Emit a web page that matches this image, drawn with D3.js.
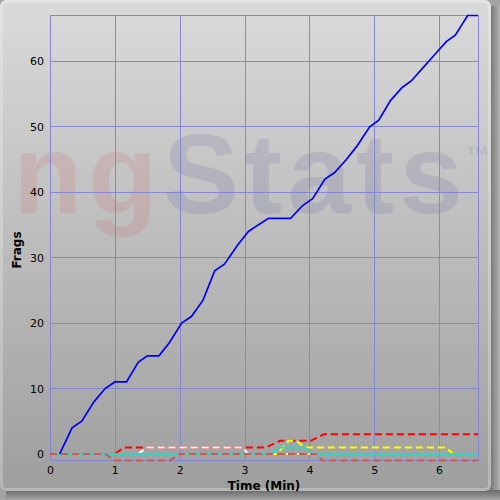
<!DOCTYPE html>
<html><head><meta charset="utf-8">
<script src="https://cdn.jsdelivr.net/npm/d3@7"></script>
<style>html,body{margin:0;padding:0;background:#888;}svg{display:block;}</style>
</head><body>
<svg id="c" width="500" height="500"></svg>
<script>
// ---- data ----
const xTicks = [0,1,2,3,4,5,6];
const yTicks = [0,10,20,30,40,50,60];
const xLabel = "Time (Min)";
const yLabel = "Frags";

const blueT = [0.15,0.34,0.49,0.68,0.85,1.0,1.18,1.36,1.5,1.68,1.84,2.03,2.18,2.36,2.54,2.69,2.9,3.06,3.21,3.37,3.71,3.9,4.05,4.24,4.39,4.57,4.73,4.93,5.07,5.25,5.43,5.57,5.75,5.93,6.11,6.25,6.44,6.6];
const blueV = [0,4,5,8,10,11,11,14,15,15,17,20,21,23.5,28,29,32,34,35,36,36,38,39,42,43,45,47,50,51,54,56,57,59,61,63,64,67,67];

const orangeT = [0,6.6];
const orangeV = [0,0];

const redT = [0,1.0,1.14,3.33,3.55,4.02,4.22,6.6];
const redV = [0,0,1,1,2,2,3,3];

const whiteT = [0,1.36,1.49,2.98,3.05,6.6];
const whiteV = [0,0,1,1,0,0];

const yellowT = [0,3.5,3.68,3.8,3.93,6.1,6.22,6.6];
const yellowV = [0,0,2,2,1,1,0,0];

const cyanT = [0,3.42,3.54,3.93,4.06,6.6];
const cyanV = [0,0,1,1,0,0];

const brownT = [0,0.85,1.0,1.85,2.0,4.1,4.2,6.6];
const brownV = [0,0,-1,-1,0,0,-1,-1];

// ---- drawing ----
const svg = d3.select("#c");
const defs = svg.append("defs");
const bg = defs.append("linearGradient").attr("id","bg").attr("x1",0).attr("y1",0).attr("x2",0).attr("y2",1);
bg.append("stop").attr("offset","0%").attr("stop-color","#dadada");
bg.append("stop").attr("offset","100%").attr("stop-color","#9e9e9e");
const sh = defs.append("linearGradient").attr("id","shR").attr("x1",0).attr("y1",0).attr("x2",1).attr("y2",0);
sh.append("stop").attr("offset","0%").attr("stop-color","#747474");
sh.append("stop").attr("offset","100%").attr("stop-color","#b4b4b4");
const shb = defs.append("linearGradient").attr("id","shB").attr("x1",0).attr("y1",0).attr("x2",0).attr("y2",1);
shb.append("stop").attr("offset","0%").attr("stop-color","#6a6a6a");
shb.append("stop").attr("offset","100%").attr("stop-color","#a4a4a4");

// outer shadow area
svg.append("rect").attr("x",0).attr("y",0).attr("width",500).attr("height",500).attr("fill","#a4a4a4");
svg.append("rect").attr("x",490).attr("y",6).attr("width",10).attr("height",494).attr("fill","url(#shR)");
svg.append("rect").attr("x",6).attr("y",490).attr("width",494).attr("height",10).attr("fill","url(#shB)");
// panel
svg.append("rect").attr("x",0).attr("y",0).attr("width",491).attr("height",491).attr("rx",6).attr("fill","url(#bg)");
// bevel
svg.append("rect").attr("x",1.5).attr("y",1.5).attr("width",488).attr("height",488).attr("rx",5)
  .attr("fill","none").attr("stroke","#ffffff").attr("stroke-opacity",0.25).attr("stroke-width",3);

// watermark
const wm = svg.append("text").attr("x",13).attr("y",213)
  .attr("font-family","Liberation Sans, Arial, sans-serif").attr("font-weight","bold")
  .attr("font-size",114).attr("textLength",450).attr("lengthAdjust","spacing");
wm.append("tspan").text("ng").attr("fill","#d03030").attr("fill-opacity",0.12);
wm.append("tspan").text("Stats").attr("fill","#404090").attr("fill-opacity",0.13);
svg.append("text").attr("x",466).attr("y",163).text("™")
  .attr("font-family","Liberation Sans, Arial, sans-serif").attr("font-weight","bold").attr("font-size",24)
  .attr("fill","#404090").attr("fill-opacity",0.13);

const x = d3.scaleLinear().domain([0,6.6]).range([50,478]);
const y = d3.scaleLinear().domain([-1,67]).range([460.5,15.5]);

// grid
const grid = svg.append("g").attr("stroke","#8686d2").attr("stroke-width",1).attr("shape-rendering","crispEdges");
xTicks.concat([6.6]).forEach(t=>{
  grid.append("line").attr("x1",Math.round(x(t))+0.5).attr("x2",Math.round(x(t))+0.5).attr("y1",15).attr("y2",460);
});
yTicks.concat([67,-1]).forEach(v=>{
  grid.append("line").attr("y1",Math.floor(y(v))+0.5).attr("y2",Math.floor(y(v))+0.5).attr("x1",x(0)).attr("x2",x(6.6)+1);
});

// axes labels via d3 axes (no lines)
const xAxis = svg.append("g").attr("transform",`translate(0,${y(-1)})`)
  .call(d3.axisBottom(x).tickValues(xTicks).tickFormat(d3.format("d")).tickSize(0).tickPadding(6));
const yAxis = svg.append("g").attr("transform",`translate(${x(0)},0)`)
  .call(d3.axisLeft(y).tickValues(yTicks).tickFormat(d3.format("d")).tickSize(0).tickPadding(6));
[xAxis,yAxis].forEach(a=>{
  a.select(".domain").remove();
  a.selectAll("text").attr("font-family","DejaVu Sans, Verdana, sans-serif").attr("font-size",11).attr("fill","#000");
});

svg.append("text").attr("x",264).attr("y",490).attr("text-anchor","middle")
  .attr("font-family","DejaVu Sans, Verdana, sans-serif").attr("font-weight","bold").attr("font-size",12)
  .text(xLabel);
svg.append("text").attr("transform","translate(21,250) rotate(-90)").attr("text-anchor","middle")
  .attr("font-family","DejaVu Sans, Verdana, sans-serif").attr("font-weight","bold").attr("font-size",12)
  .text(yLabel);

const line = d3.line().x(d=>x(d[0])).y(d=>y(d[1]));
function series(T,V,color,dash,w){
  svg.append("path").datum(T.map((t,i)=>[t,V[i]])).attr("d",line)
    .attr("fill","none").attr("stroke",color).attr("stroke-width",w)
    .attr("stroke-dasharray",dash||null);
}
series(orangeT,orangeV,"#e08a20",null,2);
series(redT,redV,"#ff0000","7,4",2);
series(whiteT,whiteV,"#ffffff","7,4",2);
series(yellowT,yellowV,"#ffff00","7,4",2);
series(cyanT,cyanV,"#33d4c4",null,2);
series(brownT,brownV,"#c85a5a","7,4",2);
series(blueT,blueV,"#0000ff",null,1.7);
</script>
</body></html>
